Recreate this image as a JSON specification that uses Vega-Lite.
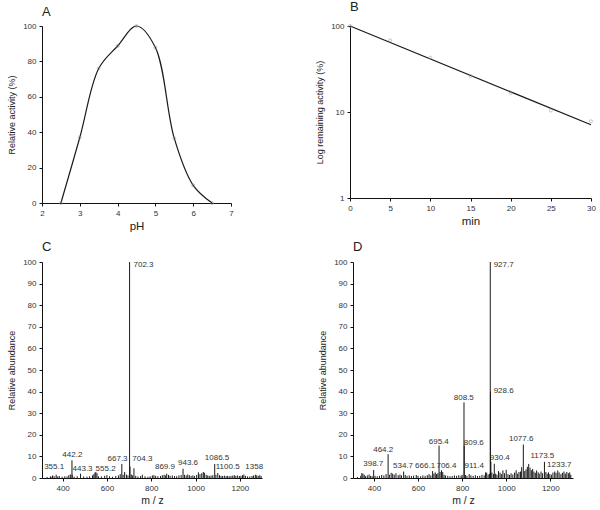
{
  "$schema": "https://vega.github.io/schema/vega-lite/v6.json",
  "padding": {"left": 7, "top": 1, "right": 2, "bottom": 2},
  "background": "white",
  "config": {
    "font": "Liberation Sans",
    "view": {"stroke": null},
    "axis": {
      "grid": false,
      "domainColor": "#111",
      "tickColor": "#111",
      "tickSize": 3,
      "labelColor": "#333",
      "labelFontSize": 8,
      "labelPadding": 3,
      "titleColor": "#222",
      "titleFontWeight": "normal",
      "labelFlush": false,
      "labelOverlap": false
    },
    "axisX": {"titleFontSize": 11.5, "titlePadding": 3},
    "axisY": {"titleFontSize": 9, "titlePadding": 6},
    "title": {"fontSize": 13, "fontWeight": "normal", "anchor": "start", "frame": "group", "color": "#222"}
  },
  "datasets": {
    "ph": [
      {"pH": 2.5, "activity": 0},
      {"pH": 3.0, "activity": 37},
      {"pH": 3.5, "activity": 76},
      {"pH": 4.0, "activity": 88.7},
      {"pH": 4.5, "activity": 100},
      {"pH": 5.0, "activity": 87.8},
      {"pH": 5.5, "activity": 36.5},
      {"pH": 6.0, "activity": 10},
      {"pH": 6.5, "activity": 0}
    ],
    "stab": [
      {"min": 0, "act": 100},
      {"min": 5, "act": 68},
      {"min": 10, "act": 42.8},
      {"min": 15, "act": 26.2},
      {"min": 20, "act": 16.6},
      {"min": 25, "act": 10.4},
      {"min": 30, "act": 7.8}
    ],
    "fit": [
      {"min": 0, "act": 100},
      {"min": 30, "act": 7.1}
    ],
    "specC": [
      {"mz": 330, "ab": 0.5}, {"mz": 345, "ab": 0.8}, {"mz": 352, "ab": 0.6}, {"mz": 355.1, "ab": 1.2}, {"mz": 362, "ab": 0.8},
      {"mz": 371, "ab": 1.5}, {"mz": 378, "ab": 0.7}, {"mz": 385, "ab": 0.9}, {"mz": 398, "ab": 0.6}, {"mz": 410, "ab": 0.8},
      {"mz": 420, "ab": 0.7}, {"mz": 428, "ab": 1.3}, {"mz": 435, "ab": 1.6}, {"mz": 442.2, "ab": 8.2}, {"mz": 443.3, "ab": 1.5},
      {"mz": 452, "ab": 0.6}, {"mz": 466, "ab": 0.8}, {"mz": 481, "ab": 2.0}, {"mz": 495, "ab": 0.7}, {"mz": 510, "ab": 0.6},
      {"mz": 522, "ab": 0.8}, {"mz": 535, "ab": 1.2}, {"mz": 541, "ab": 1.8}, {"mz": 546, "ab": 2.5}, {"mz": 550, "ab": 2.8},
      {"mz": 555.2, "ab": 2.2}, {"mz": 562, "ab": 0.8}, {"mz": 575, "ab": 0.7}, {"mz": 590, "ab": 1.0}, {"mz": 600, "ab": 1.3},
      {"mz": 612, "ab": 0.8}, {"mz": 625, "ab": 0.6}, {"mz": 640, "ab": 0.9}, {"mz": 652, "ab": 1.2}, {"mz": 660, "ab": 1.8},
      {"mz": 667.3, "ab": 6.5}, {"mz": 673, "ab": 1.5}, {"mz": 680, "ab": 2.8}, {"mz": 688, "ab": 1.6}, {"mz": 695, "ab": 1.2},
      {"mz": 702.3, "ab": 100}, {"mz": 704.3, "ab": 5.3}, {"mz": 710, "ab": 1.6}, {"mz": 716, "ab": 1.2}, {"mz": 722, "ab": 4.5},
      {"mz": 730, "ab": 1.0}, {"mz": 740, "ab": 0.7}, {"mz": 752, "ab": 0.9}, {"mz": 760, "ab": 1.5}, {"mz": 772, "ab": 0.8},
      {"mz": 785, "ab": 0.6}, {"mz": 795, "ab": 0.8}, {"mz": 805, "ab": 1.2}, {"mz": 812, "ab": 1.3}, {"mz": 820, "ab": 1.0},
      {"mz": 830, "ab": 0.8}, {"mz": 842, "ab": 0.9}, {"mz": 850, "ab": 1.3}, {"mz": 858, "ab": 1.5}, {"mz": 865, "ab": 1.2},
      {"mz": 869.9, "ab": 2.0}, {"mz": 878, "ab": 1.4}, {"mz": 885, "ab": 1.0}, {"mz": 895, "ab": 1.2}, {"mz": 905, "ab": 0.9},
      {"mz": 915, "ab": 0.8}, {"mz": 925, "ab": 1.2}, {"mz": 935, "ab": 1.4}, {"mz": 943.6, "ab": 4.3}, {"mz": 950, "ab": 1.5},
      {"mz": 958, "ab": 1.2}, {"mz": 965, "ab": 1.6}, {"mz": 972, "ab": 1.3}, {"mz": 980, "ab": 1.0}, {"mz": 988, "ab": 1.2},
      {"mz": 995, "ab": 0.9}, {"mz": 1005, "ab": 1.4}, {"mz": 1013, "ab": 2.6}, {"mz": 1020, "ab": 1.8}, {"mz": 1028, "ab": 2.2},
      {"mz": 1035, "ab": 2.8}, {"mz": 1040, "ab": 2.4}, {"mz": 1048, "ab": 1.5}, {"mz": 1055, "ab": 1.2}, {"mz": 1062, "ab": 1.0},
      {"mz": 1070, "ab": 1.1}, {"mz": 1078, "ab": 1.3}, {"mz": 1086.5, "ab": 6.5}, {"mz": 1092, "ab": 1.5}, {"mz": 1100.5, "ab": 2.3},
      {"mz": 1108, "ab": 1.3}, {"mz": 1115, "ab": 1.0}, {"mz": 1122, "ab": 0.9}, {"mz": 1130, "ab": 1.1}, {"mz": 1138, "ab": 0.9},
      {"mz": 1145, "ab": 1.0}, {"mz": 1152, "ab": 0.8}, {"mz": 1160, "ab": 1.0}, {"mz": 1168, "ab": 1.1}, {"mz": 1175, "ab": 1.3},
      {"mz": 1182, "ab": 1.0}, {"mz": 1190, "ab": 1.2}, {"mz": 1198, "ab": 0.9}, {"mz": 1205, "ab": 1.0}, {"mz": 1212, "ab": 1.3},
      {"mz": 1218, "ab": 1.6}, {"mz": 1225, "ab": 1.0}, {"mz": 1235, "ab": 0.8}, {"mz": 1245, "ab": 0.7}, {"mz": 1255, "ab": 0.9},
      {"mz": 1262, "ab": 1.2}, {"mz": 1270, "ab": 1.5}, {"mz": 1276, "ab": 1.2}, {"mz": 1283, "ab": 1.0}, {"mz": 1290, "ab": 1.3},
      {"mz": 1296, "ab": 0.9}
    ],
    "labC": [
      {"lx": 362, "ly": 4.9, "label": "355.1"},
      {"lx": 444, "ly": 10.5, "label": "442.2"},
      {"lx": 490, "ly": 4.0, "label": "443.3"},
      {"lx": 594, "ly": 4.0, "label": "555.2"},
      {"lx": 648, "ly": 8.8, "label": "667.3"},
      {"lx": 760, "ly": 8.8, "label": "704.3"},
      {"lx": 862, "ly": 4.9, "label": "869.9"},
      {"lx": 966, "ly": 7.0, "label": "943.6"},
      {"lx": 1097, "ly": 9.1, "label": "1086.5"},
      {"lx": 1145, "ly": 4.9, "label": "1100.5"},
      {"lx": 1265, "ly": 5.3, "label": "1358"}
    ],
    "labCside": [
      {"lx": 720, "ly": 98.8, "label": "702.3"}
    ],
    "specD": [
      {"mz": 325, "ab": 0.5}, {"mz": 340, "ab": 1.0}, {"mz": 345, "ab": 2.3}, {"mz": 350, "ab": 2.0}, {"mz": 356, "ab": 1.5},
      {"mz": 362, "ab": 0.8}, {"mz": 370, "ab": 1.2}, {"mz": 378, "ab": 1.6}, {"mz": 385, "ab": 1.0}, {"mz": 392, "ab": 0.8},
      {"mz": 398.7, "ab": 3.7}, {"mz": 405, "ab": 1.0}, {"mz": 415, "ab": 0.8}, {"mz": 425, "ab": 1.0}, {"mz": 435, "ab": 1.4},
      {"mz": 445, "ab": 1.2}, {"mz": 455, "ab": 1.8}, {"mz": 464.2, "ab": 11}, {"mz": 470, "ab": 1.5}, {"mz": 478, "ab": 2.4},
      {"mz": 485, "ab": 2.0}, {"mz": 492, "ab": 1.5}, {"mz": 500, "ab": 2.2}, {"mz": 510, "ab": 1.3}, {"mz": 518, "ab": 1.6},
      {"mz": 525, "ab": 1.2}, {"mz": 534.7, "ab": 3.0}, {"mz": 542, "ab": 1.4}, {"mz": 550, "ab": 1.0}, {"mz": 560, "ab": 1.2},
      {"mz": 570, "ab": 0.9}, {"mz": 580, "ab": 1.1}, {"mz": 592, "ab": 1.4}, {"mz": 600, "ab": 1.0}, {"mz": 612, "ab": 0.8},
      {"mz": 622, "ab": 1.2}, {"mz": 632, "ab": 1.0}, {"mz": 642, "ab": 1.3}, {"mz": 650, "ab": 1.8}, {"mz": 658, "ab": 1.2},
      {"mz": 666.1, "ab": 3.2}, {"mz": 672, "ab": 2.0}, {"mz": 678, "ab": 2.6}, {"mz": 684, "ab": 1.8}, {"mz": 690, "ab": 2.2},
      {"mz": 695.4, "ab": 15}, {"mz": 700, "ab": 2.8}, {"mz": 706.4, "ab": 3.6}, {"mz": 712, "ab": 2.8}, {"mz": 718, "ab": 1.5},
      {"mz": 725, "ab": 1.2}, {"mz": 735, "ab": 1.0}, {"mz": 745, "ab": 0.8}, {"mz": 755, "ab": 0.9}, {"mz": 765, "ab": 1.2},
      {"mz": 775, "ab": 1.0}, {"mz": 785, "ab": 1.3}, {"mz": 795, "ab": 1.0}, {"mz": 800, "ab": 1.5}, {"mz": 808.5, "ab": 35},
      {"mz": 809.6, "ab": 15}, {"mz": 815, "ab": 1.4}, {"mz": 822, "ab": 1.0}, {"mz": 832, "ab": 1.8}, {"mz": 840, "ab": 1.2},
      {"mz": 850, "ab": 1.0}, {"mz": 860, "ab": 1.3}, {"mz": 870, "ab": 0.9}, {"mz": 880, "ab": 1.0}, {"mz": 890, "ab": 1.5},
      {"mz": 900, "ab": 1.2}, {"mz": 906, "ab": 2.6}, {"mz": 911.4, "ab": 2.5}, {"mz": 918, "ab": 1.6}, {"mz": 924, "ab": 2.0},
      {"mz": 927.7, "ab": 100}, {"mz": 928.6, "ab": 40}, {"mz": 930.4, "ab": 7.6}, {"mz": 935, "ab": 2.5}, {"mz": 942, "ab": 1.8},
      {"mz": 946, "ab": 6.6}, {"mz": 952, "ab": 2.0}, {"mz": 958, "ab": 1.5}, {"mz": 965, "ab": 3.2}, {"mz": 972, "ab": 2.5},
      {"mz": 978, "ab": 1.8}, {"mz": 985, "ab": 3.5}, {"mz": 992, "ab": 2.2}, {"mz": 1000, "ab": 3.8}, {"mz": 1008, "ab": 1.8},
      {"mz": 1015, "ab": 1.4}, {"mz": 1022, "ab": 2.2}, {"mz": 1030, "ab": 1.6}, {"mz": 1038, "ab": 2.5}, {"mz": 1045, "ab": 3.6},
      {"mz": 1052, "ab": 2.0}, {"mz": 1058, "ab": 2.8}, {"mz": 1065, "ab": 3.0}, {"mz": 1070, "ab": 5.0}, {"mz": 1077.6, "ab": 15.5},
      {"mz": 1084, "ab": 3.2}, {"mz": 1090, "ab": 4.0}, {"mz": 1096, "ab": 5.2}, {"mz": 1102, "ab": 6.5}, {"mz": 1108, "ab": 4.8},
      {"mz": 1114, "ab": 3.6}, {"mz": 1120, "ab": 4.2}, {"mz": 1126, "ab": 3.0}, {"mz": 1132, "ab": 2.4}, {"mz": 1138, "ab": 3.5},
      {"mz": 1145, "ab": 2.6}, {"mz": 1150, "ab": 2.0}, {"mz": 1158, "ab": 3.0}, {"mz": 1165, "ab": 2.2}, {"mz": 1173.5, "ab": 7.5},
      {"mz": 1180, "ab": 2.8}, {"mz": 1186, "ab": 2.0}, {"mz": 1192, "ab": 2.6}, {"mz": 1198, "ab": 1.8}, {"mz": 1205, "ab": 1.5},
      {"mz": 1212, "ab": 2.5}, {"mz": 1220, "ab": 3.0}, {"mz": 1226, "ab": 2.4}, {"mz": 1233.7, "ab": 3.5}, {"mz": 1240, "ab": 2.6},
      {"mz": 1248, "ab": 1.8}, {"mz": 1255, "ab": 2.4}, {"mz": 1262, "ab": 3.0}, {"mz": 1268, "ab": 2.0}, {"mz": 1275, "ab": 2.8},
      {"mz": 1282, "ab": 2.2}, {"mz": 1288, "ab": 2.6}, {"mz": 1293, "ab": 1.5}
    ],
    "labD": [
      {"lx": 807.6, "ly": 37.2, "label": "808.5"},
      {"lx": 853, "ly": 16.1, "label": "809.6"},
      {"lx": 694, "ly": 16.8, "label": "695.4"},
      {"lx": 442, "ly": 13.1, "label": "464.2"},
      {"lx": 1068, "ly": 17.9, "label": "1077.6"},
      {"lx": 971, "ly": 9.3, "label": "930.4"},
      {"lx": 1164, "ly": 10.0, "label": "1173.5"},
      {"lx": 397, "ly": 6.5, "label": "398.7"},
      {"lx": 532, "ly": 5.4, "label": "534.7"},
      {"lx": 632, "ly": 5.4, "label": "666.1"},
      {"lx": 729, "ly": 5.4, "label": "706.4"},
      {"lx": 855, "ly": 5.4, "label": "911.4"},
      {"lx": 1241, "ly": 6.2, "label": "1233.7"}
    ],
    "labDside": [
      {"lx": 943, "ly": 98.8, "label": "927.7"},
      {"lx": 943, "ly": 40.5, "label": "928.6"}
    ]
  },
  "vconcat": [
    {
      "hconcat": [
        {
          "width": 189,
          "height": 177,
          "title": {"text": "A", "offset": 3},
          "data": {"name": "ph"},
          "encoding": {
            "x": {"field": "pH", "type": "quantitative", "scale": {"domain": [2, 7], "nice": false, "zero": false},
                  "axis": {"values": [2, 3, 4, 5, 6, 7], "title": "pH"}},
            "y": {"field": "activity", "type": "quantitative", "scale": {"domain": [0, 100], "nice": false},
                  "axis": {"values": [0, 20, 40, 60, 80, 100], "title": "Relative activity (%)"}}
          },
          "layer": [
            {"mark": {"type": "line", "interpolate": "catmull-rom", "color": "#1a1a1a", "strokeWidth": 1.2}},
            {"mark": {"type": "point", "shape": "circle", "size": 9, "color": "#999", "strokeWidth": 0.8, "filled": false}}
          ]
        },
        {
          "width": 241,
          "height": 172,
          "title": {"text": "B", "offset": 8},
          "layer": [
            {
              "data": {"name": "fit"},
              "mark": {"type": "line", "color": "#1a1a1a", "strokeWidth": 1.2},
              "encoding": {
                "x": {"field": "min", "type": "quantitative", "scale": {"domain": [0, 30], "nice": false},
                      "axis": {"values": [0, 5, 10, 15, 20, 25, 30], "title": "min"}},
                "y": {"field": "act", "type": "quantitative", "scale": {"type": "log", "domain": [1, 100], "nice": false},
                      "axis": {"values": [1, 10, 100], "format": ".0f", "title": "Log remaining activity (%)"}}
              }
            },
            {
              "data": {"name": "stab"},
              "mark": {"type": "point", "shape": "circle", "size": 9, "color": "#999", "strokeWidth": 0.8, "filled": false},
              "encoding": {
                "x": {"field": "min", "type": "quantitative", "scale": {"domain": [0, 30], "nice": false},
                      "axis": {"values": [0, 5, 10, 15, 20, 25, 30], "title": "min"}},
                "y": {"field": "act", "type": "quantitative", "scale": {"type": "log", "domain": [1, 100], "nice": false},
                      "axis": {"values": [1, 10, 100], "format": ".0f", "title": "Log remaining activity (%)"}}
              }
            }
          ]
        }
      ],
      "spacing": 81
    },
    {
      "hconcat": [
        {
          "width": 220,
          "height": 216,
          "title": {"text": "C", "offset": 4},
          "layer": [
            {
              "data": {"name": "specC"},
              "mark": {"type": "rule", "color": "#1a1a1a", "strokeWidth": 1},
              "encoding": {
                "x": {"field": "mz", "type": "quantitative", "scale": {"domain": [307, 1300], "nice": false, "zero": false},
                      "axis": {"values": [400, 600, 800, 1000, 1200], "format": "d", "title": "m / z", "titleFontSize": 10.5}},
                "y": {"field": "ab", "type": "quantitative", "scale": {"domain": [0, 100], "nice": false},
                      "axis": {"values": [0, 10, 20, 30, 40, 50, 60, 70, 80, 90, 100], "title": "Relative abundance"}},
                "y2": {"datum": 0}
              }
            },
            {
              "data": {"name": "labC"},
              "mark": {"type": "text", "fontSize": 8, "color": "#333", "align": "center", "baseline": "middle"},
              "encoding": {
                "x": {"field": "lx", "type": "quantitative", "scale": {"domain": [307, 1300], "nice": false, "zero": false},
                      "axis": {"values": [400, 600, 800, 1000, 1200], "format": "d", "title": "m / z", "titleFontSize": 10.5}},
                "y": {"field": "ly", "type": "quantitative", "scale": {"domain": [0, 100], "nice": false},
                      "axis": {"values": [0, 10, 20, 30, 40, 50, 60, 70, 80, 90, 100], "title": "Relative abundance"}},
                "text": {"field": "label"}
              }
            },
            {
              "data": {"name": "labCside"},
              "mark": {"type": "text", "fontSize": 8, "color": "#333", "align": "left", "baseline": "middle"},
              "encoding": {
                "x": {"field": "lx", "type": "quantitative", "scale": {"domain": [307, 1300], "nice": false, "zero": false},
                      "axis": {"values": [400, 600, 800, 1000, 1200], "format": "d", "title": "m / z", "titleFontSize": 10.5}},
                "y": {"field": "ly", "type": "quantitative", "scale": {"domain": [0, 100], "nice": false},
                      "axis": {"values": [0, 10, 20, 30, 40, 50, 60, 70, 80, 90, 100], "title": "Relative abundance"}},
                "text": {"field": "label"}
              }
            }
          ]
        },
        {
          "width": 220,
          "height": 216,
          "title": {"text": "D", "offset": 4},
          "layer": [
            {
              "data": {"name": "specD"},
              "mark": {"type": "rule", "color": "#1a1a1a", "strokeWidth": 1},
              "encoding": {
                "x": {"field": "mz", "type": "quantitative", "scale": {"domain": [305, 1303], "nice": false, "zero": false},
                      "axis": {"values": [400, 600, 800, 1000, 1200], "format": "d", "title": "m / z", "titleFontSize": 10.5}},
                "y": {"field": "ab", "type": "quantitative", "scale": {"domain": [0, 100], "nice": false},
                      "axis": {"values": [0, 10, 20, 30, 40, 50, 60, 70, 80, 90, 100], "title": "Relative abundance"}},
                "y2": {"datum": 0}
              }
            },
            {
              "data": {"name": "labD"},
              "mark": {"type": "text", "fontSize": 8, "color": "#333", "align": "center", "baseline": "middle"},
              "encoding": {
                "x": {"field": "lx", "type": "quantitative", "scale": {"domain": [305, 1303], "nice": false, "zero": false},
                      "axis": {"values": [400, 600, 800, 1000, 1200], "format": "d", "title": "m / z", "titleFontSize": 10.5}},
                "y": {"field": "ly", "type": "quantitative", "scale": {"domain": [0, 100], "nice": false},
                      "axis": {"values": [0, 10, 20, 30, 40, 50, 60, 70, 80, 90, 100], "title": "Relative abundance"}},
                "text": {"field": "label"}
              }
            },
            {
              "data": {"name": "labDside"},
              "mark": {"type": "text", "fontSize": 8, "color": "#333", "align": "left", "baseline": "middle"},
              "encoding": {
                "x": {"field": "lx", "type": "quantitative", "scale": {"domain": [305, 1303], "nice": false, "zero": false},
                      "axis": {"values": [400, 600, 800, 1000, 1200], "format": "d", "title": "m / z", "titleFontSize": 10.5}},
                "y": {"field": "ly", "type": "quantitative", "scale": {"domain": [0, 100], "nice": false},
                      "axis": {"values": [0, 10, 20, 30, 40, 50, 60, 70, 80, 90, 100], "title": "Relative abundance"}},
                "text": {"field": "label"}
              }
            }
          ]
        }
      ],
      "spacing": 54
    }
  ],
  "spacing": 9
}
